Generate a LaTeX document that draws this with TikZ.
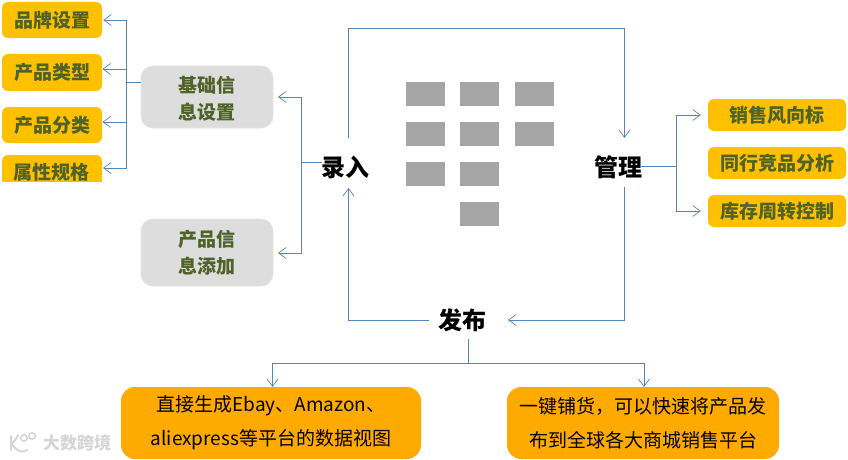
\documentclass[tikz,border=0pt]{standalone}
\usepackage{fontspec}
\setmainfont{Noto Sans CJK SC}
\usetikzlibrary{arrows.meta,calc}
\definecolor{lineblue}{HTML}{5585C0}
\definecolor{olivetxt}{HTML}{4F6228}
\definecolor{ambertag}{HTML}{FFC000}
\definecolor{orangebox}{HTML}{FFAA00}
\definecolor{greybox}{HTML}{DDDDDD}
\definecolor{greyedge}{HTML}{E6E6DC}
\definecolor{greysq}{HTML}{A6A6A6}
\definecolor{markgrey}{HTML}{D6D6D6}
\tikzset{
  x=1pt,y=-1pt,
  tag/.style={fill=ambertag,rounded corners=6pt,inner sep=0pt,font=\fontsize{19}{19}\selectfont\bfseries,text=olivetxt,anchor=center},
  infobox/.style={fill=greybox,draw=greyedge,line width=.8pt,rounded corners=12pt,inner sep=0pt,minimum width=132pt,font=\fontsize{19}{27}\selectfont\bfseries,text=olivetxt,align=center,anchor=center},
  stagelabel/.style={inner sep=0pt,font=\fontsize{24}{24}\selectfont\bfseries,text=black,anchor=center},
  bigbox/.style={fill=orangebox,rounded corners=14pt,inner sep=0pt,minimum height=72pt,font=\fontsize{19}{34}\selectfont,text=black,align=center,anchor=center},
  sq/.style={fill=greysq,inner sep=0pt,minimum width=39pt,minimum height=24pt,anchor=center},
  link/.style={draw=lineblue,line width=.95pt},
  arr/.style={link,-{Straight Barb[length=7.5pt,width=11pt,line width=.7pt]}},
}
\begin{document}
\begin{tikzpicture}
\useasboundingbox (0,0) rectangle (848,460);
\fill[white] (0,0) rectangle (848,460);

% left tags
\node[tag,minimum width=100pt,minimum height=36pt] (brand) at (52,20) {品牌设置};
\node[tag,minimum width=100pt,minimum height=37pt] (ptype) at (52,72.5) {产品类型};
\node[tag,minimum width=100pt,minimum height=36pt] (pcat) at (52,125) {产品分类};
\begin{scope}
\clip (0,150) rectangle (110,181);
\node[tag,minimum width=100pt,minimum height=40pt] (attr) at (52,175) {};
\node[inner sep=0pt,font=\fontsize{19}{19}\selectfont\bfseries,text=olivetxt] (attrtxt) at (51,172) {属性规格};
\end{scope}

% grey boxes
\node[infobox,minimum height=62pt,text depth=0pt] (basic) at (207,97) {\raisebox{-2pt}{基础信}\\\raisebox{-2pt}{息设置}};
\node[infobox,minimum height=67pt] (prod) at (207,252.5) {产品信\\息添加};

% stages
\node[stagelabel] (entry) at (345.5,167) {录入};
\node[stagelabel] (manage) at (618,167) {管理};
\node[stagelabel] (publish) at (462.5,320) {发布};

% right tags
\node[tag,minimum width=138pt,minimum height=32pt] (wind) at (777,115) {销售风向标};
\node[tag,minimum width=138pt,minimum height=32pt] (peer) at (777,163) {同行竞品分析};
\node[tag,minimum width=138pt,minimum height=32pt] (stock) at (777,211) {库存周转控制};

% bottom boxes
\node[bigbox,minimum width=300pt] (views) at (271,423) {直接生成Ebay、Amazon、\\aliexpress等平台的数据视图};
\node[bigbox,minimum width=272pt] (onekey) at (643,423) {一键铺货，可以快速将产品发\\布到全球各大商城销售平台};

% grey squares
\foreach \n/\x/\y in {a/425.5/94,b/479.5/94,c/534/94,d/425.5/134,e/479.5/134,f/534/134,g/425.5/174,h/479.5/174,i/479.5/214}
  \node[sq] (sq\n) at (\x,\y) {};

% coordinates
\coordinate (attrport) at (103,168);
\coordinate (basicport) at (141,82);
\coordinate (basicin) at (278,97);
\coordinate (prodin) at (278,253);
\coordinate (leftbus) at (126.5,82);
\coordinate (midbus) at (301,162);
\coordinate (entryleft) at (322,162);
\coordinate (entryup) at (348.5,138);
\coordinate (entrydown) at (348.5,188);
\coordinate (topleft) at (348.5,28);
\coordinate (topright) at (624.5,28);
\coordinate (managetop) at (624.5,138);
\coordinate (managedown) at (624.5,187);
\coordinate (lowright) at (624.5,320);
\coordinate (pubright) at (508,320);
\coordinate (publeft) at (429,320);
\coordinate (lowleft) at (348.5,320);
\coordinate (manageright) at (640,166);
\coordinate (rightbus) at (676.5,166);
\coordinate (pubdown) at (468.5,339);
\coordinate (pubbus) at (468.5,363);
\coordinate (viewsin) at (272.5,387);
\coordinate (onekeyin) at (644,387);

% left fan
\draw[link] (basicport) -- (leftbus);
\draw[arr] (leftbus) |- ([xshift=1pt]brand.east);
\draw[arr] (leftbus) |- (102.5,69) ;
\draw[arr] (leftbus) |- (102.5,122);
\draw[arr] (leftbus) |- (attrport);

% entry fan
\draw[link] (entryleft) -- (midbus);
\draw[arr] (midbus) |- (basicin);
\draw[arr] (midbus) |- (prodin);

% main cycle
\draw[arr] (entryup) -- (topleft) -- (topright) -- (managetop);
\draw[arr] (managedown) -- (lowright) -- (pubright);
\draw[arr] (publeft) -- (lowleft) -- (entrydown);

% manage fan
\draw[link] (manageright) -- (rightbus);
\draw[arr] (rightbus) |- ([xshift=-7pt]wind.west);
\draw[arr] (rightbus) |- ([xshift=-7pt]stock.west);

% publish fan
\draw[link] (pubdown) -- (pubbus);
\draw[arr] (pubbus) -| (viewsin);
\draw[arr] (pubbus) -| (onekeyin);

% watermark
\node[inner sep=0pt,font=\fontsize{17}{17}\selectfont\bfseries,text=markgrey] (mark) at (77,443) {大数跨境};
\draw[markgrey,line width=2pt,line cap=round] (11,436) -- (11,450) (11,444) .. controls (15,441) and (16,439) .. (18,435)
  (13,445) .. controls (17,452) and (23,453) .. (27,450);
\draw[markgrey,line width=1.5pt] (24,438) circle (3.2pt) (32,436) circle (3.2pt);
\end{tikzpicture}
\end{document}
